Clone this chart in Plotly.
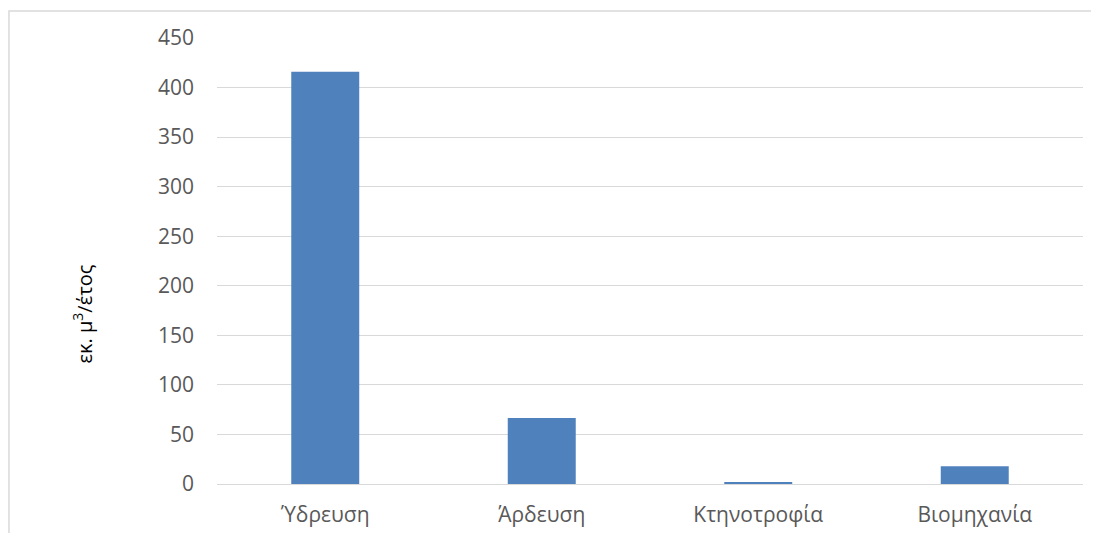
import plotly.graph_objects as go

categories = ["Ύδρευση", "Άρδευση", "Κτηνοτροφία", "Βιομηχανία"]
values = [416, 66.5, 2, 18]
y_ticks = [0, 50, 100, 150, 200, 250, 300, 350, 400, 450]

fig = go.Figure(
    go.Bar(x=categories, y=values, marker=dict(color="#4f81bd", line=dict(width=0)))
)

# page body adds an 8px margin, so the figure is a bit smaller than the window
fig.update_layout(
    width=1091,
    height=525,
    margin=dict(l=209, r=16, t=30, b=49),
    paper_bgcolor="white",
    plot_bgcolor="white",
    bargap=0.686,
    showlegend=False,
    font=dict(family="Open Sans", color="#595959", size=21),
)

fig.update_yaxes(
    range=[0, 450],
    tickvals=y_ticks,
    showgrid=True,
    gridcolor="#d9d9d9",
    gridwidth=1.3,
    zeroline=False,
    showline=False,
    automargin=False,
    ticklabelstandoff=22,
    tickfont=dict(size=21, color="#595959"),
)
fig.update_xaxes(
    showline=True,
    linecolor="#d9d9d9",
    linewidth=1.3,
    automargin=False,
    ticklabelstandoff=12,
    tickfont=dict(size=21, color="#595959"),
)

# y-axis title
fig.add_annotation(
    text="εκ. μ<sup>3</sup>/έτος",
    xref="paper", yref="paper",
    x=-0.1744, y=0.381,
    textangle=-90,
    showarrow=False,
    font=dict(size=20, color="black", family="Open Sans"),
)

# chart border (partly cut off in the original)
fig.add_shape(
    type="rect",
    xref="paper", yref="paper",
    x0=-0.2402, x1=1.05, y0=-0.2, y1=1.0606,
    line=dict(color="#d9d9d9", width=1.5),
    layer="below",
)

fig.write_html("out.html")
